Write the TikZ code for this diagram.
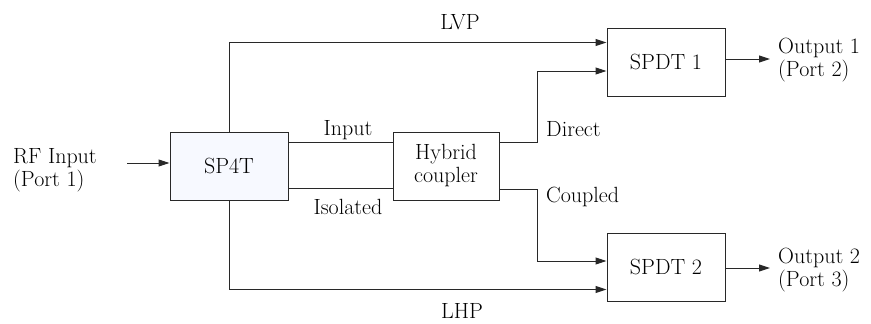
\documentclass[tikz,border=0pt]{standalone}
\usetikzlibrary{arrows.meta}
\definecolor{boxfill}{RGB}{247,249,255}
\definecolor{linecol}{RGB}{40,40,40}
\tikzset{
  blk/.style={draw=linecol, line width=1pt, rectangle, fill=white, minimum width=118pt, minimum height=68pt, inner sep=0pt, align=center},
  wire/.style={draw=linecol, line width=1pt},
  arr/.style={wire, -{Triangle[length=11pt,width=7pt]}},
  lbl/.style={inner sep=0pt, align=left}
}
\begin{document}
\begin{tikzpicture}[x=1pt,y=-1pt, font=\fontsize{22}{23}\selectfont]
\useasboundingbox (0,0) rectangle (871,324);
\node[blk, fill=boxfill] (sp4t) at (229,166) {SP4T};
\node[blk, minimum width=106pt] (hyb) at (446,166) {Hybrid\\coupler};
\node[blk] (spdt1) at (666,62) {SPDT 1};
\node[blk] (spdt2) at (666,267) {SPDT 2};

\coordinate (rfs) at (127,163);
\coordinate (dj) at (537,71);
\coordinate (cj) at (537,261);
\coordinate (o1) at (770,59);
\coordinate (o2) at (770,268);

\draw[arr] (rfs) -- (rfs -| sp4t.west);
\draw[arr] (sp4t.north) |- ([yshift=-15pt]spdt1.north west);
\draw[arr] (sp4t.south) |- ([yshift=12pt]spdt2.south west);
\draw[wire] ([yshift=-11pt]sp4t.north east) -- ([yshift=-11pt]hyb.north west);
\draw[wire] ([yshift=12pt]sp4t.south east) -- ([yshift=12pt]hyb.south west);
\draw[arr] ([yshift=-11pt]hyb.north east) -| (dj) -- (dj -| spdt1.west);
\draw[arr] ([yshift=11pt]hyb.south east) -| (cj) -- (cj -| spdt2.west);
\draw[arr] (o1 -| spdt1.east) -- (o1);
\draw[arr] (o2 -| spdt2.east) -- (o2);

\node[lbl, anchor=west] (rfin) at (13,170) {RF Input\\(Port 1)};
\node[lbl, anchor=west] (out1) at (778,60) {Output 1\\(Port 2)};
\node[lbl, anchor=west] (out2) at (778,270) {Output 2\\(Port 3)};
\node[lbl, anchor=base] (lvp) at (460,30) {LVP};
\node[lbl, anchor=base] (lhp) at (462,318) {LHP};
\node[lbl, anchor=base] (inp) at (348,135) {Input};
\node[lbl, anchor=base] (iso) at (348,214) {Isolated};
\node[lbl, anchor=base west] (dir) at (546,136) {Direct};
\node[lbl, anchor=base west] (cpl) at (546,202) {Coupled};
\end{tikzpicture}
\end{document}
